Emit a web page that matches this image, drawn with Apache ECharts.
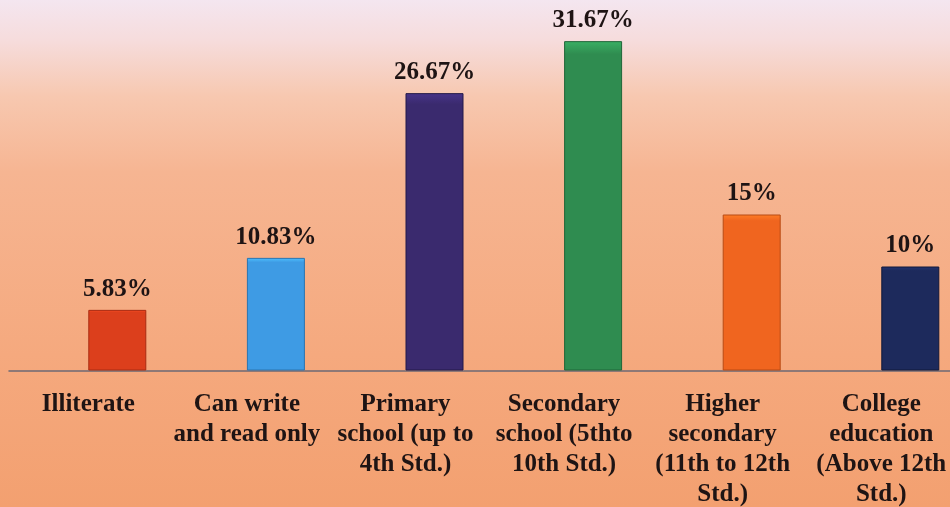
<!DOCTYPE html>
<html>
<head>
<meta charset="utf-8">
<script src="https://cdn.jsdelivr.net/npm/echarts@6/dist/echarts.min.js"></script>
<style>
  html, body { margin: 0; padding: 0; }
  #chart { width: 950px; height: 507px; }
</style>
</head>
<body>
<div id="chart"></div>
<script>
// Education level distribution of respondents (%)
const categories = [
  'Illiterate',
  'Can write\nand read only',
  'Primary\nschool (up to\n4th Std.)',
  'Secondary\nschool (5thto\n10th Std.)',
  'Higher\nsecondary\n(11th to 12th\nStd.)',
  'College\neducation\n(Above 12th\nStd.)'
];
const values = [5.83, 10.83, 26.67, 31.67, 15, 10];
const valueLabels = ['5.83%', '10.83%', '26.67%', '31.67%', '15%', '10%'];
const barColors = ['#dc3f1c', '#3e9be4', '#3a2a6e', '#2f8c50', '#f0651f', '#1d2a5c'];
const borderColors = ['#a82c12', '#2a74b0', '#221848', '#1f6638', '#b84a14', '#10183a'];

const serif = '"Liberation Serif", "Times New Roman", "DejaVu Serif", serif';

const chart = echarts.init(document.getElementById('chart'));

chart.setOption({
  backgroundColor: {
    type: 'linear', x: 0, y: 0, x2: 0, y2: 1,
    colorStops: [
      { offset: 0, color: '#f4e6f0' },
      { offset: 0.08, color: '#f6dcdc' },
      { offset: 0.19, color: '#f7c8b0' },
      { offset: 0.34, color: '#f6b592' },
      { offset: 0.7, color: '#f5a97e' },
      { offset: 1, color: '#f3a070' }
    ]
  },
  animation: false,
  grid: {
    left: 9, width: 951.6, top: 6.5, height: 364,
    containLabel: false,
    outerBoundsMode: 'none'
  },
  xAxis: {
    type: 'category',
    data: categories,
    axisLine: { show: true, lineStyle: { color: '#6c6874', width: 1.5 } },
    axisTick: { show: false },
    axisLabel: {
      interval: 0,
      margin: 19,
      fontFamily: serif,
      fontWeight: 'bold',
      fontSize: 25,
      lineHeight: 30,
      color: '#1e1414',
      align: 'center'
    }
  },
  yAxis: {
    type: 'value',
    min: 0,
    max: 35,
    show: false,
    splitLine: { show: false }
  },
  series: [
    {
      // empty slot that sits left of each bar within its category
      type: 'bar',
      barWidth: 58,
      data: values.map(() => '-'),
      silent: true
    },
    {
      type: 'bar',
      barWidth: 58,
      barGap: '0%',
      data: values.map((v, i) => ({
        value: v,
        itemStyle: {
          color: {
            type: 'linear', x: 0, y: 0, x2: 0, y2: 1,
            colorStops: [
              { offset: 0, color: echarts.color.lift(barColors[i], -0.25) },
              { offset: 0.04, color: barColors[i] },
              { offset: 1, color: barColors[i] }
            ]
          },
          borderColor: borderColors[i],
          borderWidth: 1
        },
        label: { formatter: valueLabels[i] }
      })),
      label: {
        show: true,
        position: 'top',
        distance: 8,
        fontFamily: serif,
        fontWeight: 'bold',
        fontSize: 25,
        color: '#1e1414'
      }
    }
  ]
});
</script>
</body>
</html>
